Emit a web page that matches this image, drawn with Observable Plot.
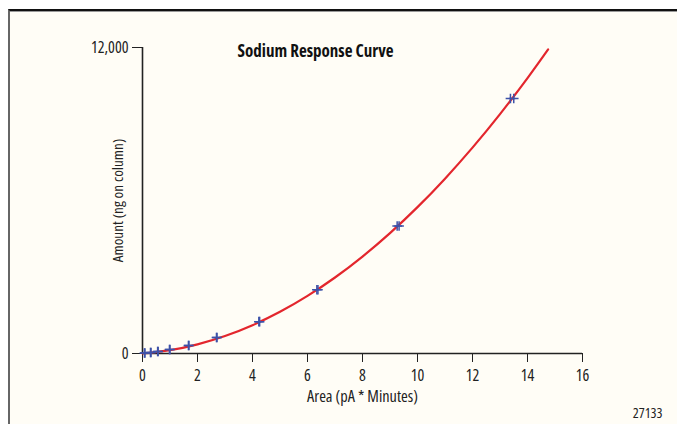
<!DOCTYPE html>
<html>
<head>
<meta charset="utf-8">
<script src="https://cdn.jsdelivr.net/npm/d3@7"></script>
<script src="https://cdn.jsdelivr.net/npm/@observablehq/plot@0.6"></script>
<style>
  html, body { margin: 0; padding: 0; background: #ffffff; }
  #wrap { position: relative; width: 677px; height: 424px; overflow: hidden; }
  #frame { position: absolute; left: 8px; top: 9px; right: 0; bottom: 0;
           background: #fffdf6; border-top: 2px solid #111; border-left: 2px solid #666;
           box-shadow: inset 0 1px 0 #999; }
  #chart { position: absolute; left: 0; top: 0; }
  #chart svg { background: transparent; font-stretch: 75%; }
  #chart svg text { font-stretch: 75%; }
</style>
</head>
<body>
<div id="wrap"><div id="frame"></div><div id="chart"></div></div>
<script>
// Calibration standards (area in pA*min, amount in ng on column)
const pointArea   = [0.07, 0.09, 0.29, 0.31, 0.55, 0.57, 0.98, 1.0, 1.67, 1.69, 2.69, 2.71, 4.23, 4.26, 6.34, 6.38, 9.26, 9.33, 13.38, 13.5];
const pointAmount = [19.5, 19.5, 39, 39, 78, 78, 156, 156, 312.5, 312.5, 625, 625, 1250, 1250, 2500, 2500, 5000, 5000, 10000, 10000];

// Fitted response curve
const curveArea   = [0, 1, 2, 3, 4, 5, 6, 7, 8, 9, 10, 11, 12, 13, 14, 14.75];
const curveAmount = [0, 129, 358, 684, 1110, 1635, 2258, 2980, 3801, 4721, 5739, 6857, 8073, 9388, 10801, 11926];

const xTicks = [0, 2, 4, 6, 8, 10, 12, 14, 16];
const yTicks = [0, 12000];

const titleText = "Sodium Response Curve";
const xLabel = "Area (pA * Minutes)";
const yLabel = "Amount (ng on column)";
const figId = "27133";

const points = pointArea.map((a, i) => ({area: a, amount: pointAmount[i]}));
const curve = curveArea.map((a, i) => ({area: a, amount: curveAmount[i]}));

const font = "'Open Sans', sans-serif";

const chart = Plot.plot({
  width: 677,
  height: 424,
  marginLeft: 142,
  marginRight: 95,
  marginTop: 47,
  marginBottom: 71,
  style: {fontFamily: font, fontSize: "16px", color: "#222", background: "transparent"},
  x: {domain: [0, 16], ticks: xTicks, tickSize: 9, tickPadding: 7, label: null},
  y: {domain: [0, 12000], ticks: yTicks, tickSize: 10, tickPadding: 4, tickFormat: d3.format(","), label: null},
  marks: [
    Plot.ruleY([0], {stroke: "#222", strokeWidth: 1.6}),
    Plot.ruleX([0], {stroke: "#222", strokeWidth: 1.6}),
    Plot.line(curve, {x: "area", y: "amount", curve: "natural", stroke: "#e3262d", strokeWidth: 2.2}),
    Plot.dot(points, {x: "area", y: "amount", symbol: "plus", r: 3.2, stroke: "#3d52a8", strokeWidth: 1.5}),
    Plot.text([titleText], {text: d => d, frameAnchor: "top", dx: -47, dy: 4, fontWeight: "bold", fontSize: 17, fill: "#111", lineAnchor: "middle"}),
    Plot.text([xLabel], {text: d => d, frameAnchor: "bottom", dy: 43, fontSize: 16.3, fill: "#222", lineAnchor: "middle"}),
    Plot.text([yLabel], {text: d => d, frameAnchor: "left", dx: -24, rotate: -90, textAnchor: "middle", fontSize: 15.2, fill: "#222", lineAnchor: "middle"}),
    Plot.text([figId], {text: d => d, frameAnchor: "bottom-right", dx: 80, dy: 60, textAnchor: "end", fontSize: 14, fill: "#222", lineAnchor: "middle"})
  ]
});
document.getElementById("chart").append(chart);
</script>
</body>
</html>
